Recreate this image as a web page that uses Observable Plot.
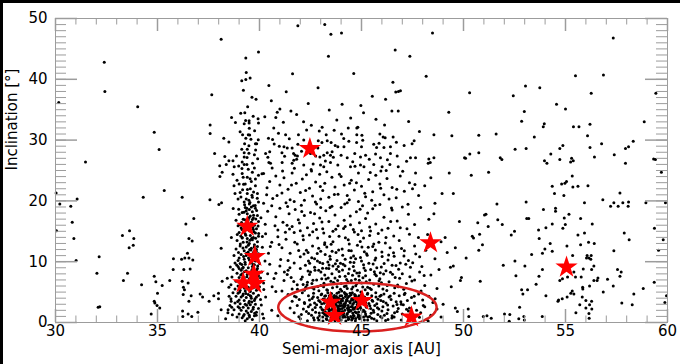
<!DOCTYPE html>
<html><head><meta charset="utf-8">
<script src="https://cdn.jsdelivr.net/npm/d3@7"></script>
<script src="https://cdn.jsdelivr.net/npm/@observablehq/plot@0.6"></script>
<style>
html,body{margin:0;padding:0;background:#000;width:680px;height:364px;overflow:hidden}
#chart{position:absolute;left:3px;top:3px;width:677px;height:361px;background:#fff}
</style></head><body><div id="chart"></div>
<script>
// ---- tick labels & titles ----
const xMajorTicks = [30,35,40,45,50,55,60];
const yMajorTicks = [0,10,20,30,40,50];
const xTitle = ["Semi-major axis [AU]"];
const yTitle = ["Inclination [°]"];

// ---- objects: [semi-major axis AU, inclination deg] ----
const sparseWest = [[38.12,46.6],[32.39,42.8],[32.42,38.0],[37.66,37.45],[30.16,36.2],[34.03,35.5],[37.58,32.5],[37.58,31.1],[34.84,31.3],[38.25,30.3],[38.5,29.7],[35.08,28.45],[37.8,27.8],[38.3,27.3],[38.5,26.6],[38.7,26.6],[31.47,26.4],[38.05,25.8],[38.37,26.0],[38.76,25.6],
[30.03,21.3],[30.21,19.5],[30.75,19.1],[31.06,20.3],[30.82,16.5],[30.05,15.1],[30.9,13.8],[31.01,10.2],[32.14,10.8],[32.03,8.1],[32.09,2.5],[32.17,2.6],[33.28,14.3],[33.63,15.1],[33.84,13.8],[33.61,12.3],[33.81,12.7],[33.33,6.9],[33.53,8.1],[34.22,6.2],[34.3,20.6],[35.33,21.7],[36.21,20.6],[37.57,20.2],[38.01,19.4],[38.14,19.7],[36.39,16.2],[36.78,17.1],[37.39,14.4],[38.12,12.2],[36.54,13.8],[36.7,13.4],[36.47,11.4],[36.34,10.6],[36.18,10.4],[36.54,10.6],[36.73,10.3],[35.78,10.5],[35.77,8.7],[36.29,8.7],[36.6,8.8],[34.84,7.6],[34.92,6.7],[35.23,6.1],[35.6,6.9],[35.0,4.8],[34.84,3.5],[34.98,2.8],[35.11,2.4],[34.87,3.2],[34.69,1.4],[36.21,6.8],[36.27,5.8],[36.32,5.4],[36.26,4.6],[36.5,6.5],[36.65,4.4],[36.54,3.5],[36.23,1.9],[36.5,1.4],[36.68,1.0],[36.24,1.0],[36.98,1.7],[37.09,4.7],[37.21,4.2],[37.53,3.5],[37.76,4.4],[37.99,4.8],[37.99,3.9],[38.17,6.8],[38.12,2.1],[38.46,2.1],[38.64,2.5],[38.61,3.5],[38.51,4.3]];

const resonantHigh = [[39.95,44.5],[39.33,43.5],[39.13,39.75],[39.33,39.97],[39.54,40.2],[39.08,34.4],[39.28,34.5],[38.63,33.7],[38.82,32.9],[39.49,33.2],[39.49,32.8],[39.25,32.7],[39.93,33.5],[39.95,32.8],[39.5,31.96],[39.45,30.9],[39.52,30.85],[39.33,30.3],[39.8,29.4],[39.86,29.4],[39.13,28.5],[39.4,28.5],[39.25,27.9],[39.48,27.85],[39.75,27.6],[39.25,27.2],[39.15,26.4],[39.25,26.0],[39.38,26.0],[39.45,25.2],[39.75,25.4],
[38.7,24.4],[38.9,23.4],[39.15,24.5],[39.4,23.9],[39.65,24.7],[39.8,23.6],[39.95,24.2],[38.75,22.5],[39.0,22.8],[39.3,22.8],[39.55,22.0],[39.8,22.5],[38.8,21.2],[39.05,21.4],[39.4,21.2],[39.65,20.6],[39.9,21.2],[39.25,19.8],[39.5,19.5],[39.7,19.2],[39.95,19.8],[39.35,20.3],[39.6,23.2],[39.2,23.9],[38.95,20.3],[38.06,24.0],[38.17,24.7]];

const resonantMid = [[39.3,18.9],[39.5,18.6],[39.65,18.2],[39.8,18.8],[39.4,17.9],[39.55,17.5],[39.7,17.2],[39.2,17.0],[39.9,17.6],[39.45,16.9],[39.6,16.5],[39.3,16.2],[39.75,16.0],[39.1,15.6],[39.85,15.4],[39.5,15.1],[39.25,15.0],[39.95,16.6],[39.0,17.8],[39.35,18.4],[38.95,15.9],[39.6,19.0],[39.15,18.1],[38.85,16.8],[39.7,15.3],
[39.0,14.8],[39.3,14.6],[39.55,14.3],[39.8,14.7],[39.95,14.2],[39.15,14.0],[39.4,13.8],[39.65,13.6],[39.9,13.3],[38.9,13.5],[39.2,13.2],[39.5,13.0],[39.75,12.8],[39.05,12.6],[39.35,12.4],[39.6,12.2],[39.85,12.0],[38.85,12.1],[39.25,11.8],[39.45,11.6],[39.7,11.5],[39.95,11.3],[39.1,11.2],[39.35,11.0],[39.6,10.8],[39.0,10.6],[39.25,10.4],[39.5,10.3],[39.8,10.1],[38.75,11.0],[39.15,13.9],[39.7,14.0],[39.45,12.7],[39.9,12.5],[38.95,10.2]];

const resonantLow = [[38.8,9.8],[39.05,9.7],[39.3,9.6],[39.55,9.8],[39.75,9.5],[40.0,9.7],[38.95,9.2],[39.2,9.1],[39.45,9.0],[39.65,9.2],[39.9,8.9],[38.7,8.7],[39.1,8.6],[39.35,8.5],[39.6,8.4],[39.85,8.6],[40.1,8.3],[38.9,8.1],[39.15,8.0],[39.4,7.9],[39.7,7.8],[39.95,7.7],[38.65,7.5],[39.0,7.4],[39.25,7.3],[39.5,7.2],[39.8,7.1],[40.05,7.3],[38.85,6.8],[39.1,6.7],[39.35,6.6],[39.6,6.5],[39.9,6.4],[38.6,6.2],[38.95,6.0],[39.2,5.9],[39.45,5.8],[39.7,5.7],[40.0,5.9],[38.8,5.5],[39.05,5.3],[39.3,5.2],[39.55,5.1],[39.85,5.3],[38.5,5.8],[39.6,9.9],[39.0,8.9],[39.5,6.9],
[38.7,4.9],[38.95,4.8],[39.2,4.7],[39.45,4.6],[39.7,4.8],[39.95,4.5],[38.85,4.3],[39.1,4.2],[39.35,4.1],[39.6,4.0],[39.85,4.2],[38.6,3.9],[39.0,3.7],[39.25,3.6],[39.5,3.5],[39.75,3.6],[40.05,3.8],[38.8,3.2],[39.05,3.1],[39.3,3.0],[39.55,2.9],[39.8,3.0],[38.95,2.6],[39.2,2.5],[39.45,2.4],[39.7,2.5],[39.95,2.3],[38.75,2.1],[39.1,2.0],[39.35,1.9],[39.6,1.8],[39.85,1.7],[39.0,1.4],[39.25,1.3],[39.5,1.2],[39.75,1.1],[38.9,0.9],[39.15,0.8],[39.4,0.6],[39.65,0.5],[39.3,0.3],[38.55,2.8],[38.45,1.6],[40.15,1.4],[39.55,4.4]];

const resonantExtra = [[39.37,2.83],[39.62,3.37],[39.18,4.46],[39.84,1.21],[39.51,0.92],[39.27,5.63],[39.73,6.88],[39.08,7.82],[39.44,8.27],[39.91,9.31],[39.22,10.87],[39.58,11.92],[39.06,12.93],[39.81,13.84],[39.33,14.37],[39.67,15.62],[39.12,16.43],[39.49,17.28],[39.86,18.41],[39.27,19.36],[39.63,20.92],[39.41,21.87],[39.78,3.91],[39.03,5.02],[39.56,5.47],[39.32,6.13],[39.89,7.49],[39.17,8.94],[39.69,9.58],[39.46,10.61],[38.97,11.53],[39.74,12.41],[39.39,13.26],[39.96,14.62],[39.14,15.28],[39.57,16.18],[39.82,17.03],[39.24,18.14],[39.53,19.74],[39.09,20.66],[39.71,21.46],[39.43,1.57],[39.21,1.06],[39.68,2.17],[38.93,3.46],[39.58,4.28],[39.12,6.34],[39.83,5.82],[39.38,7.54],[39.64,8.71],[38.88,9.47],[39.29,9.93],[39.52,12.02],[39.19,12.27],[39.87,10.44],[39.62,13.87],[39.08,14.22],[39.42,15.47],[39.93,15.87],[39.28,16.91],[39.71,17.62],[38.98,18.62],[39.48,20.12],[39.17,21.84],[39.79,19.23],[39.33,4.77],[39.47,3.22],[39.76,1.53],[39.02,2.37],[39.26,8.36],[39.59,7.37],[39.84,11.67],[39.13,9.53],[39.36,11.37],[39.72,14.93],[39.53,13.52],[38.91,14.47],[39.04,16.13],[39.65,16.93],[39.38,18.81],[39.89,20.44],[39.22,22.73],[39.54,23.66],[39.14,25.34],[39.66,26.18],[39.39,27.12],[39.81,28.37],[39.27,29.42],[39.58,30.16],[39.05,31.37],[39.69,33.92],[39.42,35.47],[39.83,36.73],[39.21,38.21],[39.63,37.04],[39.35,41.12],[38.98,25.76],[39.91,26.92],[39.48,29.06],[39.17,30.88],[39.76,31.52],[39.32,33.22],[38.87,27.38],[39.94,30.07],[40.12,24.46],[40.07,17.21],[40.14,12.37],[40.21,5.42],[40.09,2.86],[38.62,13.96],[38.71,18.77],[38.57,9.12],[38.42,7.26],[38.34,0.61],[38.67,1.29]];

const classicalHigh = [[41.88,48.8],[43.2,49.0],[43.5,47.4],[44.02,47.6],[48.48,47.6],[46.65,44.8],[47.37,43.8],[43.38,43.8],[41.62,40.9],[48.17,40.5],[40.46,39.0],[46.54,39.5],[46.68,37.9],[46.81,38.0],[46.91,38.1],[46.18,36.7],[42.39,36.0],[44.05,35.9],[44.97,35.7],[41.0,35.1],[40.87,34.6],[40.8,33.7],[41.54,34.8],[45.1,34.5],[46.49,34.8],[46.8,34.8],[49.28,34.6],[43.79,33.3],[42.16,33.0],[40.7,32.0],[43.07,32.1],[42.93,31.5],[43.66,31.6],[44.35,32.0],[44.77,32.0],[44.82,32.1],[46.13,32.5],[47.84,31.4],[44.02,31.0],[44.77,30.9],[45.02,30.8],[41.28,30.9],[41.91,30.9],[45.9,31.0],[46.06,30.5],[46.16,30.4],[46.55,30.5],[48.55,30.9],[49.43,30.7],[40.44,30.3],[40.64,30.1],[42.17,30.0],[41.88,29.3],[41.6,28.7],[41.36,28.7],[40.97,29.0],[42.88,29.9],[43.06,29.6],[43.32,29.9],[43.51,29.6],[43.71,29.1],[43.84,28.9],[44.14,28.9],[44.38,29.8],[44.76,29.6],[45.0,28.9],[45.6,29.3],[45.74,28.8],[46.1,28.8],[46.42,28.9],[47.09,29.1],[47.48,29.4],[47.58,29.9],[40.3,27.8],[40.5,28.1],[41.1,27.9],[41.2,28.9],[41.67,27.8],[41.75,27.5],[41.86,27.4],[42.5,27.8],[42.75,27.4],[42.96,27.2],[43.15,27.5],[43.32,27.9],[43.48,27.5],[43.56,28.1],[44.0,27.5],[44.3,27.1],[44.67,27.8],[44.95,27.2],[45.2,27.5],[45.69,27.7],[45.93,27.1],[46.42,27.8],[46.75,27.4],[47.4,27.1],[47.65,27.1],[48.3,26.9],[48.55,27.1],[50.05,27.1],[40.46,26.3],[40.54,26.2],[41.11,26.3],[41.6,26.2],[41.68,26.7],[42.17,25.9],[42.99,25.9],[43.15,25.6],[43.48,26.3],[43.84,25.9],[44.46,25.6],[44.95,25.9],[45.12,25.6],[45.6,26.0],[46.01,25.6],[46.39,26.0],[46.8,25.6],[48.27,26.2],[48.37,26.3]];

const classicalUpper = [[40.2,24.5],[40.5,23.2],[40.8,24.1],[41.0,22.6],[41.2,23.8],[41.4,21.9],[41.6,24.6],[41.8,22.9],[42.0,21.4],[42.1,23.6],[42.3,24.3],[42.45,22.1],[42.6,20.8],[42.75,23.1],[42.95,24.4],[43.1,21.7],[43.2,22.9],[43.4,20.6],[43.55,23.9],[43.7,22.3],[43.85,21.1],[44.0,24.0],[44.15,22.6],[44.3,20.9],[44.5,23.4],[44.65,21.8],[44.85,24.6],[45.0,22.4],[45.2,20.7],[45.35,23.5],[45.55,21.5],[45.7,24.2],[45.9,22.8],[46.1,21.0],[46.25,23.7],[46.5,22.2],[46.7,20.5],[46.9,24.1],[47.1,21.6],[47.35,23.0],[47.65,24.6],[47.8,20.9],[48.1,22.5],[48.4,23.8],[49.3,24.6],[49.5,21.2],[40.35,21.0],[40.65,20.4],[41.5,20.2],[42.2,20.1],[43.0,20.3],[44.4,20.2],[45.5,20.1],[46.35,20.3],[41.1,21.3],[43.3,24.8],[44.75,23.0],[45.95,24.9],[42.55,24.9],[47.5,22.0],[48.95,21.2],
[40.2,19.6],[40.4,18.3],[40.6,19.2],[40.8,17.4],[41.0,18.8],[41.15,16.5],[41.3,19.7],[41.45,17.9],[41.6,15.8],[41.75,18.6],[41.9,16.9],[42.05,19.3],[42.2,17.6],[42.35,15.6],[42.5,18.1],[42.65,16.3],[42.8,19.5],[42.95,17.2],[43.1,15.4],[43.25,18.4],[43.4,16.6],[43.55,19.1],[43.7,17.7],[43.85,15.9],[44.0,18.9],[44.15,16.8],[44.3,19.7],[44.45,17.5],[44.6,15.3],[44.75,18.2],[44.9,16.4],[45.05,19.2],[45.2,17.1],[45.4,15.7],[45.55,18.7],[45.7,16.2],[45.9,19.4],[46.1,17.3],[46.3,15.5],[46.5,18.5],[46.75,16.7],[47.0,19.0],[47.3,17.8],[47.6,16.1],[47.9,18.9],[48.3,17.0],[48.6,19.6],[40.9,15.2],[42.0,15.1],[43.6,15.0],[45.0,15.1],[46.0,15.2],[41.35,16.0],[42.7,17.9],[44.2,15.8],[45.3,18.0],[46.9,15.6],[43.0,18.9],[41.7,19.9],[44.85,19.9],[48.55,17.9],[49.8,16.6]];

const classicalMid = [[40.3,14.6],[40.6,13.2],[40.9,14.1],[41.1,12.3],[41.3,13.7],[41.5,11.4],[41.7,14.8],[41.85,12.9],[42.0,10.8],[42.15,13.6],[42.3,11.9],[42.45,14.4],[42.6,12.6],[42.7,10.5],[42.85,13.9],[43.0,11.7],[43.15,14.7],[43.3,12.4],[43.45,10.9],[43.6,13.3],[43.75,11.5],[43.9,14.2],[44.05,12.1],[44.2,10.4],[44.35,13.6],[44.5,11.8],[44.65,14.9],[44.8,12.7],[44.95,10.7],[45.1,13.9],[45.25,11.3],[45.4,14.3],[45.55,12.5],[45.7,10.6],[45.85,13.2],[46.0,11.6],[46.2,14.0],[46.4,12.3],[46.6,10.9],[46.85,13.5],[47.1,11.8],[47.35,14.5],[47.6,12.6],[47.85,10.8],[48.15,11.9],[48.6,10.5],[49.1,14.0],[49.6,12.3],[41.4,10.2],[42.4,10.1],[43.8,10.2],[45.0,10.1],[46.3,10.3],[47.3,10.2],[43.2,13.1],[44.4,12.9],[42.9,12.2],[45.6,12.9],[49.2,11.5],[48.9,13.3],
[40.5,9.6],[40.8,8.1],[41.0,9.3],[41.2,6.9],[41.4,8.6],[41.55,7.4],[41.7,9.8],[41.85,6.2],[42.0,8.9],[42.1,7.5],[42.25,9.4],[42.35,6.6],[42.5,8.3],[42.6,5.7],[42.7,9.1],[42.8,7.0],[42.9,8.6],[43.0,6.1],[43.1,9.7],[43.2,7.8],[43.3,5.4],[43.4,8.9],[43.5,6.8],[43.6,9.3],[43.7,7.3],[43.8,5.9],[43.9,8.4],[44.0,6.4],[44.1,9.6],[44.2,7.6],[44.3,5.6],[44.4,8.8],[44.5,6.9],[44.6,9.2],[44.7,7.1],[44.8,5.3],[44.9,8.2],[45.0,6.5],[45.1,9.5],[45.2,7.7],[45.3,5.8],[45.45,8.7],[45.6,6.3],[45.75,9.0],[45.9,7.2],[46.05,5.5],[46.2,8.5],[46.35,6.7],[46.5,9.4],[46.65,7.4],[46.8,5.9],[47.0,8.0],[47.2,6.4],[47.4,9.1],[47.6,7.0],[47.85,8.3],[48.1,6.1],[48.4,7.8],[48.7,5.6],[49.5,9.3],[40.2,6.5],[42.45,7.9],[43.55,8.0],[44.65,8.5],[45.4,7.0],[43.05,7.2],[44.25,6.0],[45.85,6.0],[42.2,5.3],[41.6,5.5],[46.9,9.8],[44.45,9.9],[43.35,9.95],[41.1,5.2],[48.8,8.7],[49.36,9.1],[49.85,6.9],[40.4,8.0]];

const classicalExtra = [[40.37,22.18],[40.62,25.43],[40.86,20.87],[41.13,24.92],[41.38,19.07],[41.57,22.63],[41.82,26.84],[42.07,18.26],[42.26,21.71],[42.53,25.16],[42.74,19.82],[42.98,22.38],[43.23,26.57],[43.46,18.93],[43.67,21.04],[43.92,24.37],[44.18,19.47],[44.42,22.92],[44.68,25.71],[44.93,18.62],[45.16,21.27],[45.43,24.69],[45.67,19.28],[45.94,22.07],[46.21,25.02],[46.47,18.83],[46.73,21.92],[47.02,24.87],[47.28,19.43],[47.62,22.71],[40.28,16.17],[40.53,12.48],[40.76,15.91],[41.04,10.36],[41.27,14.83],[41.49,9.02],[41.73,13.18],[41.96,16.36],[42.18,11.26],[42.38,8.47],[42.61,14.94],[42.84,10.12],[43.06,16.54],[43.28,8.93],[43.51,12.87],[43.74,15.32],[43.97,9.74],[44.21,13.92],[44.46,16.07],[44.71,10.47],[44.94,13.32],[45.19,8.56],[45.44,15.03],[45.68,11.94],[45.92,8.17],[46.17,13.07],[46.43,16.63],[46.69,9.37],[46.96,12.18],[47.23,15.42],[47.51,9.81],[47.79,13.97],[48.07,7.73],[48.36,12.76],[40.44,11.37],[40.71,7.24],[40.96,12.83],[41.22,8.32],[41.47,15.37],[41.68,6.73],[41.92,11.83],[42.13,14.27],[42.33,6.17],[42.56,10.63],[42.79,15.28],[43.01,8.31],[43.22,11.17],[43.44,14.14],[43.66,6.47],[43.88,11.94],[44.12,15.47],[44.36,8.07],[44.61,10.93],[44.83,14.47],[45.07,7.36],[45.33,12.36],[45.57,9.63],[45.82,14.62],[46.08,7.96],[46.33,11.12],[46.58,14.22],[46.82,8.76],[47.08,10.93],[47.37,7.51],[47.66,11.27],[47.96,9.23],[48.24,14.47],[41.86,5.47],[42.27,5.81],[42.62,6.93],[42.91,5.24],[43.16,6.46],[43.37,7.31],[43.58,5.72],[43.83,6.92],[44.03,5.17],[44.27,7.06],[44.52,5.53],[44.76,6.37],[44.97,5.02],[45.23,6.72],[45.48,5.42],[45.73,7.68],[45.98,6.53],[46.24,5.27],[46.52,7.92],[46.77,6.16],[47.07,5.47],[47.47,6.82],[47.92,5.18],[43.41,9.47],[44.07,8.63],[44.56,7.78],[45.12,8.97],[42.72,8.58],[43.93,7.57],[45.63,8.34],[46.11,9.72],[42.04,7.13],[41.36,7.89],[40.62,5.87],[40.27,10.12],[40.14,14.13],[40.41,27.16],[40.72,29.37],[40.93,31.12],[41.23,27.34],[41.46,30.24],[41.71,25.37],[42.06,28.17],[42.31,31.67],[42.63,26.08],[42.86,28.72],[43.27,30.87],[43.62,27.16],[44.13,30.28],[44.57,26.44],[45.06,29.97],[45.38,26.83],[45.86,29.48],[46.27,26.77],[46.71,29.63],[47.21,26.52],[40.26,33.83],[40.58,36.48],[41.17,32.93],[41.82,34.21],[42.54,32.46],[43.42,34.94],[44.47,33.62],[45.71,33.41],[47.31,33.07],[41.31,37.94],[42.87,38.61],[44.62,40.97],[45.53,37.23],
[42.14,6.27],[42.46,9.73],[42.83,11.36],[43.14,5.86],[43.47,10.42],[43.78,8.76],[44.08,11.07],[44.34,6.72],[44.63,9.87],[44.87,7.63],[45.14,11.62],[45.41,5.63],[45.66,10.27],[45.97,9.13],[46.26,6.08],[46.57,11.48],[46.87,7.27],[47.17,9.58],[42.38,11.52],[42.67,5.52],[42.96,9.86],[43.26,7.14],[43.56,11.73],[43.86,9.22],[44.16,5.91],[44.48,10.63],[44.77,8.13],[45.06,5.82],[45.36,9.76],[45.66,7.93],[46.01,10.84],[46.42,8.27],[42.57,6.42],[43.09,8.94],[43.63,6.58],[44.19,9.34],[44.72,6.03],[45.28,11.08],[45.86,6.87],[46.63,5.71],[43.33,5.29],[43.97,5.47],[44.58,5.84],[45.18,5.37],[42.86,5.93],[44.89,6.93],[43.72,9.68],[44.38,11.83],[45.02,12.41],[43.19,12.82]];

const classicalCore = [[41.4,4.6],[41.8,4.2],[42.1,4.9],[42.4,4.4],[42.65,4.8],[42.85,4.1],[43.05,4.7],[43.2,4.3],[43.35,4.9],[43.5,4.5],[43.65,4.1],[43.8,4.8],[43.95,4.4],[44.1,4.0],[44.25,4.7],[44.4,4.3],[44.55,4.9],[44.7,4.5],[44.85,4.1],[45.0,4.6],[45.15,4.2],[45.3,4.8],[45.5,4.4],[45.7,4.9],[45.9,4.3],[46.1,4.7],[46.35,4.2],[46.6,4.8],[46.85,4.4],[47.1,4.6],[47.45,4.1],[47.8,4.7],[48.3,4.3],
[41.6,3.5],[41.95,3.8],[42.2,3.3],[42.45,3.7],[42.7,3.2],[42.9,3.6],[43.05,3.1],[43.2,3.8],[43.35,3.4],[43.45,3.0],[43.6,3.7],[43.75,3.3],[43.9,3.9],[44.0,3.5],[44.15,3.1],[44.3,3.6],[44.45,3.2],[44.6,3.8],[44.75,3.4],[44.9,3.0],[45.05,3.7],[45.2,3.3],[45.35,3.9],[45.55,3.5],[45.75,3.1],[45.95,3.6],[46.2,3.2],[46.45,3.8],[46.7,3.4],[46.95,3.0],[47.25,3.6],[47.6,3.2],[48.0,3.7],[48.5,3.3],
[41.5,2.4],[41.85,2.8],[42.15,2.2],[42.4,2.6],[42.6,2.1],[42.8,2.9],[43.0,2.5],[43.15,2.0],[43.3,2.7],[43.4,2.3],[43.55,2.9],[43.7,2.4],[43.85,2.0],[43.95,2.7],[44.05,2.3],[44.2,2.8],[44.35,2.1],[44.5,2.6],[44.65,2.2],[44.8,2.9],[44.95,2.4],[45.1,2.0],[45.25,2.7],[45.45,2.3],[45.65,2.8],[45.85,2.2],[46.05,2.6],[46.3,2.1],[46.55,2.7],[46.8,2.3],[47.05,2.9],[47.35,2.4],[47.7,2.0],[48.1,2.6],[48.7,2.2],
[41.7,1.6],[42.05,1.3],[42.3,1.8],[42.55,1.2],[42.75,1.7],[42.95,1.1],[43.1,1.6],[43.25,1.2],[43.4,1.9],[43.5,1.4],[43.65,1.0],[43.8,1.7],[43.9,1.3],[44.05,1.8],[44.15,1.1],[44.3,1.5],[44.45,1.9],[44.6,1.2],[44.75,1.6],[44.9,1.1],[45.05,1.8],[45.2,1.4],[45.4,1.0],[45.6,1.7],[45.8,1.3],[46.0,1.9],[46.25,1.5],[46.5,1.1],[46.75,1.8],[47.0,1.4],[47.3,1.9],[47.9,1.6],[48.4,1.2],
[42.0,0.6],[42.35,0.3],[42.65,0.8],[42.9,0.4],[43.1,0.9],[43.3,0.5],[43.5,0.8],[43.7,0.3],[43.85,0.7],[44.0,0.4],[44.2,0.9],[44.35,0.5],[44.55,0.8],[44.7,0.3],[44.9,0.6],[45.1,0.9],[45.3,0.4],[45.5,0.7],[45.75,0.3],[46.0,0.8],[46.3,0.5],[46.6,0.9],[46.95,0.4],[47.5,0.7],[48.2,0.5],
[48.9,0.9],[49.0,3.0],[49.4,5.9],[49.7,1.8],[49.9,7.4],[49.6,2.4],[40.3,4.2],[40.6,2.0],[40.8,5.1],[40.9,1.1],[40.2,0.7]];

const coreExtra = [[43.12,3.87],[43.41,2.63],[43.58,4.12],[43.83,1.42],[44.07,3.58],[44.33,0.87],[44.61,2.34],[44.88,4.41],[45.17,1.77],[43.27,0.62],[43.66,3.21],[44.19,4.73],[44.52,0.41],[44.79,2.96],[45.08,4.07],[43.94,2.18],[44.42,3.41],[43.02,4.58],[43.71,0.96],[44.96,0.74],[45.36,3.12],[45.62,0.58],[42.73,2.47],[42.58,3.94],[43.19,1.37],[43.53,4.79],[44.11,1.63],[44.68,4.21],[45.24,2.51],[45.81,3.83],[46.12,1.21],[46.41,4.36],[42.86,0.78],[43.89,4.98],[44.27,3.77],[44.84,1.28],[45.47,1.52],[43.36,2.84],[44.58,3.02],[43.98,3.16],[44.14,2.52],[44.37,1.78],[43.77,4.27],[43.61,1.83],[44.72,0.67],[45.03,3.33],[43.48,3.61],[44.23,0.23],[44.49,4.56],[43.07,2.14],[45.58,2.03],[45.93,0.97],[46.28,2.87],[46.62,1.61],[46.93,3.41],[47.21,2.16],[47.58,4.32],[47.84,0.88],[42.41,1.47],[42.21,3.12],[41.93,0.93],[41.72,4.31],[43.86,2.37],[44.03,4.38],[44.41,2.07],[44.66,4.62],[43.33,1.04],[43.73,3.92],[44.92,3.61],[45.14,0.42],[45.71,4.18],[43.57,2.13],[44.29,1.32],[44.78,3.83],[43.93,0.58],[44.16,4.92],[44.57,1.57],[43.24,4.41],[45.41,2.76],[44.81,2.28],[43.44,0.27],[44.05,2.81],[44.33,4.11],[43.68,2.96],[44.47,0.98],[44.99,2.12],[45.29,4.64],[42.97,3.42],[42.64,4.23],[46.07,3.47],[46.49,0.72],[46.74,2.97],[47.13,4.81],[47.42,1.33],[48.03,2.78],[48.61,3.92],[48.27,0.26],
[43.81,3.43],[44.24,3.47],[44.63,3.27],[43.52,1.17],[44.09,0.86],[44.54,2.63],[43.29,2.28],[43.92,2.78],[44.38,2.48],[44.86,3.12],[43.63,3.88],[44.18,2.02],[44.71,2.49],[43.42,4.38],[44.02,1.23],[44.44,4.83],[43.78,1.91],[45.11,3.02],[43.17,3.18],[44.83,0.96],[45.21,1.07],[43.69,0.52],[44.27,4.56],[43.99,3.82],[44.51,3.68],[44.12,1.48],[43.86,4.02],[44.34,2.78],[44.69,1.72],[43.39,3.99],[43.97,0.97],[44.76,4.12],[43.58,2.42],[44.21,3.14],[44.59,0.68],[43.84,2.57],[45.32,0.89],[43.23,1.72],[44.47,1.94],[44.93,2.58],[45.52,3.67],[45.78,2.41],[42.93,1.58],[42.68,0.43],[43.11,0.26],[45.96,4.47],[46.18,0.34],[42.49,2.93],
[43.46,2.01],[43.88,3.33],[44.31,2.33],[44.73,3.58],[43.62,0.78],[44.06,1.53],[44.52,3.89],[43.31,3.71],[44.86,1.73],[43.77,2.82],[44.21,4.27],[44.64,1.08],[43.54,3.27],[44.39,0.62],[43.91,1.84],[44.97,4.23],[43.67,4.43],[44.15,2.67],[44.58,2.17],[43.27,2.47]];

const scatteredEast = [[57.34,46.8],[55.49,40.6],[56.86,40.7],[50.3,37.8],[53.04,38.9],[53.74,38.6],[52.44,37.3],[56.26,37.7],[59.43,37.7],[54.56,35.9],[55.0,35.1],[52.98,34.7],[52.85,33.1],[53.96,32.7],[53.91,32.2],[55.39,32.2],[55.66,32.2],[56.2,32.6],[58.86,33.0],[50.75,30.8],[51.6,31.0],[53.47,30.5],[56.08,30.7],[58.32,29.8],[58.09,28.9],[57.94,28.6],[56.77,29.4],[54.87,29.1],[54.72,28.6],[56.2,28.8],[52.53,28.5],[53.07,28.6],[50.31,27.7],[50.75,27.9],[54.28,27.7],[57.39,27.6],[51.8,27.1],[51.88,26.8],[53.97,26.6],[54.09,26.2],[54.72,26.8],[55.3,27.0],[55.38,26.6],[55.25,26.4],[56.42,27.2],[57.94,26.2],[59.32,26.9],[59.41,26.8],[50.1,27.0],
[50.38,24.2],[51.23,24.7],[55.33,24.1],[55.05,23.2],[54.81,22.8],[54.97,22.9],[54.35,22.4],[55.36,22.3],[55.61,22.4],[56.1,22.5],[54.46,21.2],[54.92,20.9],[57.67,21.3],[56.83,20.2],[57.21,19.1],[57.37,19.7],[57.58,19.1],[57.81,19.7],[58.09,19.8],[58.07,19.1],[58.94,19.7],[59.9,19.7],[51.64,19.5],[53.07,19.8],[55.93,19.7],[53.92,18.6],[54.51,18.8],[54.51,18.3],[55.17,17.8],[54.94,17.2],[55.74,17.1],[51.1,17.8],[51.03,17.7],[51.68,16.9],[50.7,16.4],[51.9,16.1],[53.1,17.1],[53.2,17.1],[54.35,16.2],[54.99,16.1],[54.87,15.5],[54.04,15.6],[53.68,15.2],[56.31,16.2],[51.21,15.8],[52.5,15.0],[52.34,14.4],[50.43,14.2],[50.49,13.9],[50.79,14.5],[55.93,14.7],[55.61,14.4],[57.88,14.7],[58.12,13.6],[59.36,15.5],[59.79,13.6],[53.71,13.8],[54.25,13.0],[55.74,12.8],[56.13,13.2],[56.41,13.0],[55.07,12.6],[50.93,12.8],[50.75,11.9],[53.99,12.1],[54.35,11.7],[53.87,11.4],[57.37,11.8],[59.56,11.9],[53.34,11.2],[55.35,11.0],[56.06,11.0],[56.26,11.0],[56.24,10.4],[56.03,10.6],[56.15,10.6],[50.13,10.6],[52.52,10.1],[51.95,9.4],[53.01,9.3],[55.87,8.8],[56.28,8.7],[56.39,9.3],[53.87,8.7],[57.55,8.7],[57.67,7.6],[57.73,8.3],[52.57,7.7],[53.7,7.6],[55.41,8.3],[55.49,7.5],[55.1,7.5],[54.72,6.9],[54.85,7.2],[50.82,6.8],[55.77,7.5],[56.39,6.9],[56.59,7.3],[56.55,6.9],[57.06,7.1],[57.34,6.0],[53.56,6.3],[55.84,5.8],[55.85,5.5],[56.18,6.0],[52.85,5.4],[53.14,5.4],[52.91,4.7],[55.33,5.2],[55.41,4.7],[55.26,4.8],[54.04,4.4],[56.85,5.0],[58.81,5.6],[59.35,6.6],[59.95,4.4],[59.87,3.3],[58.35,4.7],[57.76,3.2],[58.27,2.9],[54.63,3.5],[54.84,3.9],[55.08,4.2],[54.66,3.7],[55.82,4.2],[56.0,3.6],[56.28,3.5],[56.18,2.9],[55.7,2.9],[56.0,2.4],[56.29,2.2],[55.51,1.6],[56.15,1.5],[56.16,0.7],[52.75,2.5],[50.26,1.0],[50.97,1.0],[51.15,1.1],[51.36,0.7],[52.01,1.4],[52.27,1.3],[52.24,0.2],[52.71,0.6],[52.96,1.0],[52.98,0.4],[53.86,1.0],[50.23,2.2],[59.7,24.7]];

// highlighted objects (red stars)
const starA = [42.47,39.4,39.77,39.72,39.2,39.77,43.48,45.03,43.68,47.45,48.38,55.05];
const starI = [28.6,15.8,10.85,7.9,6.5,6.4,3.3,3.6,1.15,0.9,13.1,9.1];

// highlighted region (ellipse): centre a, centre i, half-width (AU), half-height (deg)
const ellipseSpec = [44.8, 2.5, 3.88, 4.0];

// ---- build ----
const objects = [...sparseWest, ...resonantHigh, ...resonantMid, ...resonantLow, ...resonantExtra,
  ...classicalHigh, ...classicalUpper, ...classicalMid, ...classicalExtra, ...classicalCore, ...coreExtra, ...scatteredEast]
  .map(([a,i]) => ({a, i}));
const stars = starA.map((a,k) => ({a, i: starI[k]}));
const [ea, ei, erx, ery] = ellipseSpec;
const ellipse = d3.range(0, 361, 3).map(t => ({
  a: ea + erx*Math.cos(t*Math.PI/180), i: ei + ery*Math.sin(t*Math.PI/180)}));

const xMinor = d3.range(30, 61, 1);
const yMinor = d3.range(0, 51, 1);

const W = 677, H = 361, mL = 52, mR = 13, mT = 15, mB = 42;
const iW = W - mL - mR, iH = H - mT - mB;
const grey = "#9c9c9c";

const chart = Plot.plot({
  width: W, height: H,
  marginLeft: mL, marginRight: mR, marginTop: mT, marginBottom: mB,
  style: {background: "#fff", fontFamily: "'DejaVu Sans', sans-serif", fontSize: "15px", color: "#000", overflow: "visible"},
  x: {domain: [30, 60]},
  y: {domain: [0, 50]},
  marks: [
    Plot.dot(objects, {x: "a", y: "i", r: 1.5, fill: "#000", stroke: null}),
    Plot.line(ellipse, {x: "a", y: "i", stroke: "#d9201f", strokeWidth: 2.5}),
    Plot.dot(stars, {x: "a", y: "i", symbol: "star", r: 7, fill: "#ff0000", stroke: null}),
    Plot.frame({stroke: grey}),
    Plot.ruleX(xMinor, {stroke: grey, insetTop: iH - 6.5}),
    Plot.ruleX(xMinor, {stroke: grey, insetBottom: iH - 6.5}),
    Plot.ruleX(xMajorTicks, {stroke: grey, strokeWidth: 1.5, insetTop: iH - 13}),
    Plot.ruleX(xMajorTicks, {stroke: grey, strokeWidth: 1.5, insetBottom: iH - 13}),
    Plot.ruleY(yMinor, {stroke: grey, insetRight: iW - 11}),
    Plot.ruleY(yMinor, {stroke: grey, insetLeft: iW - 11}),
    Plot.ruleY(yMajorTicks, {stroke: grey, strokeWidth: 1.5, insetRight: iW - 22}),
    Plot.ruleY(yMajorTicks, {stroke: grey, strokeWidth: 1.5, insetLeft: iW - 22}),
    Plot.axisX(xMajorTicks, {tickSize: 0, tickPadding: 3, fontSize: 15, label: null}),
    Plot.axisY(yMajorTicks, {tickSize: 0, tickPadding: 8, fontSize: 15, label: null}),
    Plot.text(xTitle, {text: d => d, frameAnchor: "bottom", dy: 31, fontSize: 15}),
    Plot.text(yTitle, {text: d => d, frameAnchor: "left", dx: -43, rotate: -90, fontSize: 15})
  ]
});
document.getElementById("chart").appendChild(chart);
</script>
</body></html>
